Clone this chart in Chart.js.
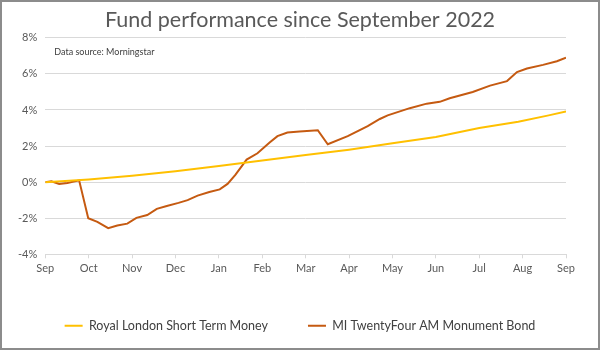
<!DOCTYPE html>
<html>
<head>
<meta charset="utf-8">
<script src="https://cdn.jsdelivr.net/npm/chart.js@4"></script>
<style>
  html, body { margin: 0; padding: 0; background: #fff; }
  #wrap { position: relative; width: 596px; height: 346px; border: 2px solid #8c8c8c; }
</style>
</head>
<body>
<div id="wrap"><canvas id="lineChart" width="596" height="346"></canvas></div>
<script>
// month tick labels (x axis runs 0..12 in months from Sep 2022)
const monthLabels = ['Sep', 'Oct', 'Nov', 'Dec', 'Jan', 'Feb', 'Mar', 'Apr', 'May', 'Jun', 'Jul', 'Aug', 'Sep'];

// Royal London Short Term Money (cumulative %)
const royalX = [0, 1, 2, 3, 4, 5, 6, 7, 8, 9, 10, 10.9, 11.6, 12];
const royalY = [0, 0.15, 0.35, 0.6, 0.9, 1.2, 1.5, 1.8, 2.15, 2.5, 3.0, 3.35, 3.7, 3.92];

// MI TwentyFour AM Monument Bond (cumulative %)
const bondX = [0, 0.14, 0.32, 0.51, 0.78, 0.99, 1.2, 1.45, 1.66, 1.89, 2.1, 2.35, 2.57, 2.8, 3.07, 3.28, 3.51, 3.78, 4.02,
               4.2, 4.38, 4.64, 4.89, 5.17, 5.35, 5.58, 5.86, 6.28, 6.51, 6.97, 7.43, 7.71, 7.89, 8.4, 8.79, 9.09, 9.32,
               9.85, 10.25, 10.64, 10.87, 11.1, 11.47, 11.79, 12];
const bondY = [0, 0.05, -0.1, -0.05, 0.1, -2.0, -2.2, -2.55, -2.4, -2.3, -1.98, -1.82, -1.48, -1.32, -1.15, -1.0, -0.75, -0.55, -0.4,
               -0.1, 0.4, 1.25, 1.6, 2.2, 2.55, 2.75, 2.8, 2.88, 2.1, 2.55, 3.1, 3.5, 3.7, 4.1, 4.35, 4.45, 4.65,
               5.0, 5.35, 5.6, 6.1, 6.3, 6.5, 6.7, 6.9];

const toPoints = (xs, ys) => xs.map((x, i) => ({ x: x, y: ys[i] }));

// small "Data source" note inside the plot
const sourceNote = {
    id: 'sourceNote',
    afterDraw(chart) {
        const ctx = chart.ctx;
        ctx.save();
        ctx.font = '9px Lato';
        ctx.fillStyle = '#404040';
        ctx.textBaseline = 'middle';
        ctx.fillText('Data source: Morningstar', chart.chartArea.left + 9, chart.chartArea.top + 14);
        ctx.restore();
    }
};

// padding is uneven (left 8, right 32) so nudge title + legend back to the middle of the canvas
const centreShift = {
    id: 'centreShift',
    afterLayout(chart) {
        const dx = 12;
        [chart.titleBlock, chart.legend].forEach(b => {
            if (b) { b.left += dx; b.right += dx; }
        });
    }
};

Chart.defaults.font.family = 'Lato';
Chart.defaults.color = '#595959';

new Chart(document.getElementById('lineChart'), {
    type: 'line',
    data: {
        datasets: [
            {
                label: 'Royal London Short Term Money',
                data: toPoints(royalX, royalY),
                borderColor: '#FFC000',
                backgroundColor: '#FFC000',
                borderWidth: 2,
                pointRadius: 0,
                tension: 0,
            },
            {
                label: 'MI TwentyFour AM Monument Bond',
                data: toPoints(bondX, bondY),
                borderColor: '#C55A11',
                backgroundColor: '#C55A11',
                borderWidth: 2,
                pointRadius: 0,
                tension: 0,
            },
        ],
    },
    options: {
        responsive: false,
        animation: false,
        layout: { padding: { left: 8, right: 32, top: 0, bottom: 6 } },
        scales: {
            x: {
                type: 'linear',
                min: 0,
                max: 12,
                ticks: {
                    stepSize: 1,
                    font: { size: 11 },
                    padding: 4,
                    callback: (v) => monthLabels[v],
                },
                grid: { drawOnChartArea: false, drawTicks: true, tickLength: 4, color: '#d9d9d9' },
                border: { color: '#d9d9d9' },
            },
            y: {
                min: -4,
                max: 8,
                ticks: {
                    stepSize: 2,
                    font: { size: 11 },
                    padding: 8,
                    callback: (v) => v + '%',
                },
                grid: { color: '#d9d9d9', drawTicks: false },
                border: { display: false },
            },
        },
        plugins: {
            title: {
                display: true,
                text: 'Fund performance since September 2022',
                color: '#595959',
                font: { size: 21.5, weight: 'normal' },
                padding: { top: 5, bottom: 5 },
            },
            legend: {
                position: 'bottom',
                labels: {
                    usePointStyle: true,
                    pointStyle: 'line',
                    pointStyleWidth: 18,
                    font: { size: 12.5 },
                    color: '#404040',
                    padding: 40,
                },
            },
            tooltip: { enabled: false },
        },
    },
    plugins: [sourceNote, centreShift],
});
</script>
</body>
</html>
